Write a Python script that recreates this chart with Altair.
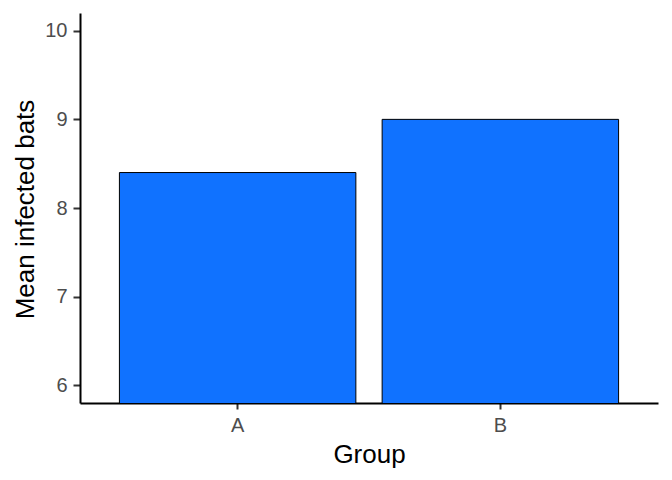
import altair as alt
import pandas as pd

groups = ["A", "B"]
means = [8.4, 9.0]
y_ticks = [6, 7, 8, 9, 10]

df = pd.DataFrame({"Group": groups, "Mean": means})

bars = alt.Chart(df).mark_bar(
    color="#1072FF", stroke="black", strokeWidth=1, clip=True
).encode(
    x=alt.X("Group:N",
            scale=alt.Scale(paddingInner=0.1, paddingOuter=0.15),
            axis=alt.Axis(title="Group", labelAngle=0, tickSize=6, labelPadding=6,
                          titleY=59, titleBaseline="alphabetic", titleX=289)),
    y=alt.Y("Mean:Q",
            scale=alt.Scale(domain=[5.8, 10.2], nice=False, zero=False),
            axis=alt.Axis(title="Mean infected bats", values=y_ticks, tickSize=7,
                          labelPadding=6, titleX=-47, titleY=196,
                          titleBaseline="alphabetic", titleAngle=-90)),
    y2=alt.datum(0),
)

chart = bars.properties(
    width=578, height=390,
    autosize=alt.AutoSizeParams(type="none"),
    padding={"left": 72, "top": 5, "right": 2, "bottom": 69},
).configure_view(stroke=None).configure_axis(
    grid=False,
    domainColor="black", domainWidth=2,
    tickColor="#333333", tickWidth=2,
    labelColor="#4D4D4D", labelFont="Liberation Sans", labelFontSize=20,
    titleColor="black", titleFont="Liberation Sans", titleFontSize=26, titleFontWeight="normal",
)

chart.save("out.html", embed_options={"renderer": "svg", "actions": False})
